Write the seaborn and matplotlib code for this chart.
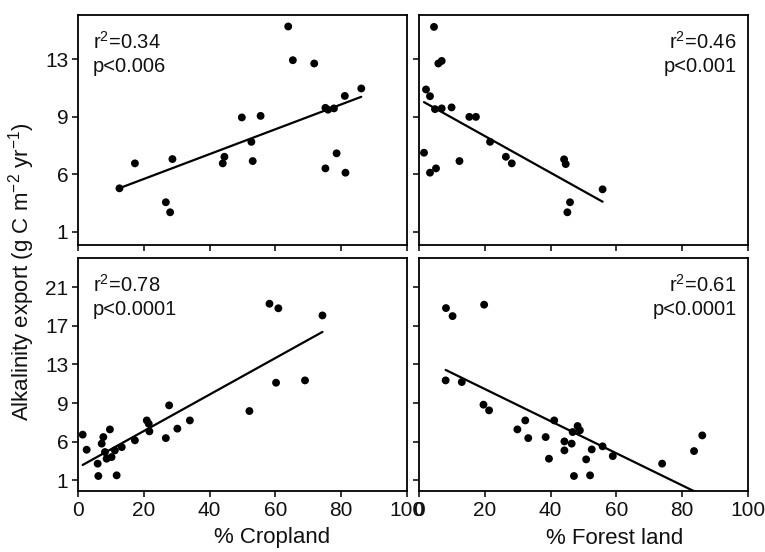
import numpy as np
import pandas as pd
import matplotlib
matplotlib.use("Agg")
import matplotlib.pyplot as plt
import seaborn as sns

# ---- data ----
crop_top_x = [12.6, 17.3, 26.7, 28.0, 28.7, 44.0, 44.5, 49.8, 52.7, 53.1, 55.5, 63.9, 65.3,
              71.8, 75.2, 75.2, 76.0, 77.8, 78.6, 81.3, 81.1, 86.1]
crop_top_y = [4.02, 5.76, 3.05, 2.35, 6.06, 5.76, 6.22, 8.96, 7.26, 5.92, 9.07, 15.3, 12.95,
              12.72, 9.63, 5.41, 9.5, 9.59, 6.46, 5.11, 10.46, 10.98]

forest_top_x = [4.56, 5.88, 6.9, 2.13, 3.34, 4.86, 6.9, 9.9, 15.3, 17.3, 21.6, 1.52, 3.34,
                5.17, 12.3, 26.4, 28.2, 44.1, 44.6, 45.9, 45.1, 55.8]
forest_top_y = [15.27, 12.72, 12.9, 10.91, 10.44, 9.54, 9.59, 9.66, 9.0, 9.0, 7.26, 6.5, 5.11,
                5.41, 5.92, 6.22, 5.76, 6.04, 5.71, 3.05, 2.35, 3.95]

crop_bot_x = [1.42, 2.63, 5.98, 6.18, 11.75, 7.7, 7.2, 8.2, 8.7, 9.7, 10.2, 11.2, 13.3, 17.3,
              20.9, 21.5, 21.7, 26.7, 27.7, 30.2, 34.0, 52.1, 58.2, 60.9, 60.2, 69.0, 74.3]
crop_bot_y = [5.73, 4.17, 2.73, 1.45, 1.52, 5.48, 4.8, 3.93, 3.24, 6.27, 3.41, 4.1, 4.44, 5.14,
              7.2, 6.86, 6.07, 5.37, 8.76, 6.35, 7.2, 8.17, 19.27, 18.8, 11.1, 11.34, 18.06]

forest_bot_x = [8.2, 10.2, 19.8, 8.1, 13.0, 19.6, 21.3, 29.9, 32.3, 33.2, 38.5, 39.5, 41.1,
                44.2, 44.2, 46.4, 46.7, 48.2, 48.9, 47.1, 50.8, 52.0, 52.5, 55.8, 58.9, 73.9,
                83.6, 86.1]
forest_bot_y = [18.82, 17.99, 19.17, 11.34, 11.17, 8.83, 8.24, 6.27, 7.2, 5.37, 5.48, 3.24, 7.2,
                5.03, 4.1, 4.8, 6.0, 6.62, 6.17, 1.45, 3.17, 1.52, 4.2, 4.52, 3.51, 2.73,
                4.03, 5.65]

x_ticks = [0, 20, 40, 60, 80, 100]
top_y_ticks = [1, 5, 9, 13]
top_y_labels = ["1", "6", "9", "13"]
bot_y_ticks = [1, 5, 9, 13, 17, 21]
bot_y_labels = ["1", "6", "9", "13", "17", "21"]

stats = ["r$^2$=0.34\np<0.006", "r$^2$=0.46\np<0.001",
         "r$^2$=0.78\np<0.0001", "r$^2$=0.61\np<0.0001"]

# ---- figure ----
sns.set_theme(style="white")
plt.rcParams['font.family'] = ['Liberation Sans', 'DejaVu Sans']
plt.rcParams['mathtext.fontset'] = 'custom'
plt.rcParams['mathtext.rm'] = 'Liberation Sans'

fig = plt.figure(figsize=(7.65, 5.52), dpi=100)
W, H = 765.0, 552.0
def box(l, t, r, b):
    return [l / W, 1 - b / H, (r - l) / W, (b - t) / H]

ax_tl = fig.add_axes(box(78, 15, 407, 245))
ax_tr = fig.add_axes(box(419, 15, 748, 245))
ax_bl = fig.add_axes(box(78, 258, 407, 491))
ax_br = fig.add_axes(box(419, 258, 748, 491))

panels = [
    (ax_tl, crop_top_x, crop_top_y, (0.07, 16.1), top_y_ticks, top_y_labels, stats[0], "left"),
    (ax_tr, forest_top_x, forest_top_y, (0.07, 16.1), top_y_ticks, top_y_labels, stats[1], "right"),
    (ax_bl, crop_bot_x, crop_bot_y, (-0.1, 24.0), bot_y_ticks, bot_y_labels, stats[2], "left"),
    (ax_br, forest_bot_x, forest_bot_y, (-0.1, 24.0), bot_y_ticks, bot_y_labels, stats[3], "right"),
]

for ax, xs, ys, ylim, yt, yl, txt, side in panels:
    df = pd.DataFrame({"x": xs, "y": ys})
    sns.regplot(data=df, x="x", y="y", ax=ax, ci=None, truncate=True,
                scatter_kws=dict(s=32, color="black", edgecolor="none", alpha=1),
                line_kws=dict(color="black", lw=1.6))
    ax.set_xlim(0, 100)
    ax.set_ylim(*ylim)
    ax.set_xticks(x_ticks)
    ax.set_yticks(yt)
    ax.set_xlabel("")
    ax.set_ylabel("")
    for s in ax.spines.values():
        s.set_visible(True)
        s.set_color("black")
        s.set_linewidth(1.3)
    ax.tick_params(direction="out", length=4, width=1.1, color="black",
                   labelsize=15, labelcolor="#111111", pad=3,
                   bottom=True, left=True)
    if side == "left":
        ax.set_yticklabels(yl)
        ax.text(0.045, 0.93, txt, transform=ax.transAxes, ha="left", va="top",
                fontsize=14.5, linespacing=1.25, color="#111111")
    else:
        ax.set_yticklabels([])
        ax.text(0.965, 0.93, txt, transform=ax.transAxes, ha="right", va="top",
                fontsize=14.5, linespacing=1.25, color="#111111")

for ax in (ax_tl, ax_tr):
    ax.set_xticklabels([])

ax_bl.set_xticklabels([str(t) for t in x_ticks])
ax_br.set_xticklabels([str(t) for t in x_ticks])

fig.text(272 / W, 1 - 538 / H, "% Cropland", ha="center", va="center",
         fontsize=16, color="#111111")
fig.text(615 / W, 1 - 538 / H, "% Forest land", ha="center", va="center",
         fontsize=16, color="#111111")
fig.text(22 / W, 1 - 272 / H, "Alkalinity export (g C m$^{-2}$ yr$^{-1}$)",
         ha="center", va="center", rotation=90, fontsize=16, color="#111111")

fig.savefig("out.png", dpi=100)
